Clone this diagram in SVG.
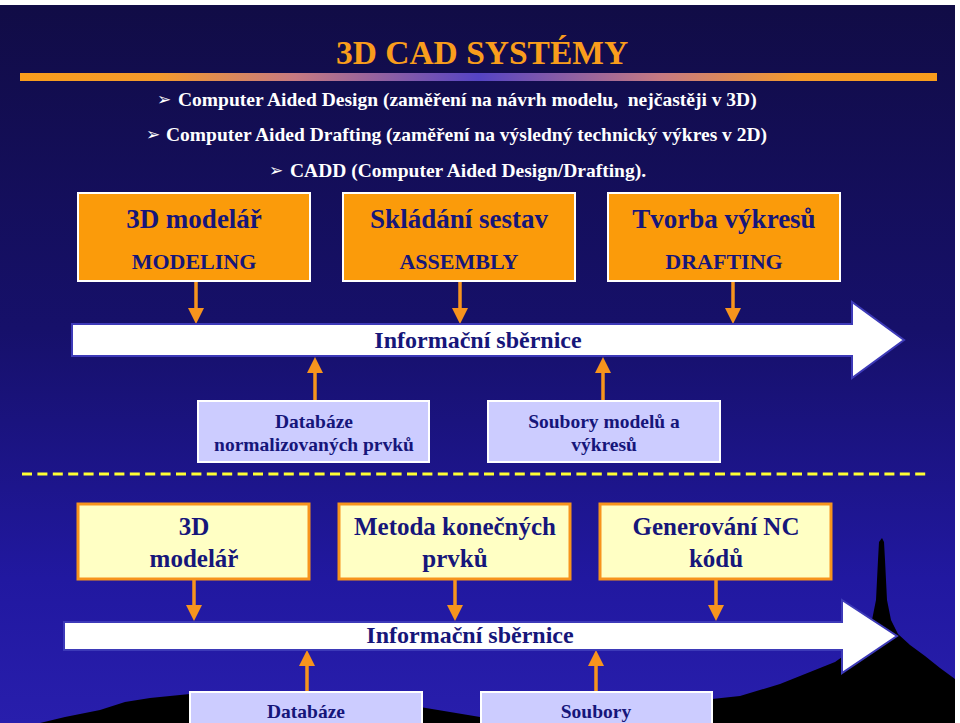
<svg xmlns="http://www.w3.org/2000/svg" width="960" height="723" viewBox="0 0 960 723">
<defs>
<linearGradient id="bg" x1="0" y1="0" x2="0" y2="1">
<stop offset="0" stop-color="#110c46"/>
<stop offset="0.45" stop-color="#16106a"/>
<stop offset="0.8" stop-color="#2118a0"/>
<stop offset="1" stop-color="#281eac"/>
</linearGradient>
<linearGradient id="rule" x1="0" y1="0" x2="1" y2="0">
<stop offset="0" stop-color="#f99d1c"/>
<stop offset="0.15" stop-color="#f49a2c"/>
<stop offset="0.3" stop-color="#c77a82"/>
<stop offset="0.5" stop-color="#5544c4"/>
<stop offset="0.7" stop-color="#c77a82"/>
<stop offset="0.85" stop-color="#f49a2c"/>
<stop offset="1" stop-color="#f99d1c"/>
</linearGradient>
<marker id="ah" markerWidth="16" markerHeight="16" refX="0" refY="8" orient="auto" markerUnits="userSpaceOnUse" viewBox="0 0 16 16">
<path d="M0,0 L16,8 L0,16 z" fill="#f7941d"/>
</marker>
<style>
.t{font-family:"Liberation Serif","Times New Roman",serif;font-weight:bold;text-anchor:middle;fill:#16167a}
.w{font-family:"Liberation Serif","Times New Roman",serif;font-weight:bold;fill:#ffffff;font-size:19.5px}
.ar{font-family:"DejaVu Sans",sans-serif;fill:#ffffff;font-size:17px}
.ob{fill:#fb9b0a;stroke:#ffffff;stroke-width:2}
.lb{fill:#ccccff;stroke:#ffffff;stroke-width:2}
.yb{fill:#ffffc4;stroke:#f7941d;stroke-width:3}
.bus{fill:#ffffff;stroke:#3d3ab8;stroke-width:2}
.c{stroke:#f7941d;stroke-width:3.5;fill:none;marker-end:url(#ah)}
</style>
</defs>
<rect x="0" y="0" width="960" height="723" fill="#ffffff"/>
<rect x="0" y="5" width="955" height="718" fill="url(#bg)"/>
<path d="M40 723 L65 717 L100 710 L125 702 L150 698 L190 694 L300 692 L420 707 L480 717 L560 712 L712 699 L740 696 L780 684 L810 672 L835 662 L855 648 L866 634 L872 620 L876 600 L878 560 L879 542 L882 538 L884 542 L885 560 L887 600 L891 620 L898 634 L910 645 L925 656 L940 668 L955 679 L955 723 Z" fill="#000000"/>
<text x="482" y="64" style="font-family:'Liberation Serif','Times New Roman',serif;font-weight:bold;font-size:33.5px;fill:#f99d1c;text-anchor:middle">3D CAD SYSTÉMY</text>
<rect x="20" y="73" width="917" height="8" fill="url(#rule)"/>
<text class="ar" x="157" y="105">➢</text>
<text class="w" x="178" y="106" xml:space="preserve">Computer Aided Design (zaměření na návrh modelu,  nejčastěji v 3D)</text>
<text class="ar" x="146" y="140">➢</text>
<text class="w" x="166" y="141">Computer Aided Drafting (zaměření na výsledný technický výkres v 2D)</text>
<text class="ar" x="269" y="176">➢</text>
<text class="w" x="290" y="177">CADD (Computer Aided Design/Drafting).</text>
<g id="connectors">
<line class="c" x1="196" y1="282" x2="196" y2="308"/>
<line class="c" x1="460" y1="282" x2="460" y2="308"/>
<line class="c" x1="733" y1="282" x2="733" y2="308"/>
<line class="c" x1="315" y1="401" x2="315" y2="373"/>
<line class="c" x1="603" y1="401" x2="603" y2="373"/>
<line class="c" x1="194" y1="580" x2="194" y2="605"/>
<line class="c" x1="455" y1="580" x2="455" y2="605"/>
<line class="c" x1="716" y1="580" x2="716" y2="605"/>
<line class="c" x1="307" y1="691" x2="307" y2="666"/>
<line class="c" x1="596" y1="691" x2="596" y2="666"/>
</g>
<g id="modeling">
<rect class="ob" x="78" y="193" width="232" height="88"/>
<text class="t" x="194" y="228" font-size="27">3D modelář</text>
<text class="t" x="194" y="269" font-size="22">MODELING</text>
</g>
<g id="assembly">
<rect class="ob" x="343" y="193" width="232" height="88"/>
<text class="t" x="459" y="228" font-size="27">Skládání sestav</text>
<text class="t" x="459" y="269" font-size="22">ASSEMBLY</text>
</g>
<g id="drafting">
<rect class="ob" x="608" y="193" width="232" height="88"/>
<text class="t" x="724" y="228" font-size="27">Tvorba výkresů</text>
<text class="t" x="724" y="269" font-size="22">DRAFTING</text>
</g>
<g id="bus1">
<path class="bus" d="M72 324 L852 324 L852 302 L904 340 L852 378 L852 356 L72 356 Z"/>
<text class="t" x="478" y="348" font-size="24">Informační sběrnice</text>
</g>
<g id="db1">
<rect class="lb" x="198" y="401" width="231" height="61"/>
<text class="t" x="314" y="428" font-size="19.5">Databáze</text>
<text class="t" x="314" y="451" font-size="19.5">normalizovaných prvků</text>
</g>
<g id="files1">
<rect class="lb" x="488" y="401" width="232" height="61"/>
<text class="t" x="604" y="428" font-size="19.5">Soubory modelů a</text>
<text class="t" x="604" y="451" font-size="19.5">výkresů</text>
</g>
<line x1="22" y1="474" x2="928" y2="474" stroke="#ffff33" stroke-width="3" stroke-dasharray="10 5.4"/>
<g id="modeler2">
<rect class="yb" x="78" y="504" width="231" height="75"/>
<text class="t" x="194" y="535" font-size="25">3D</text>
<text class="t" x="194" y="567" font-size="25">modelář</text>
</g>
<g id="fem">
<rect class="yb" x="339" y="504" width="231" height="75"/>
<text class="t" x="455" y="535" font-size="25">Metoda konečných</text>
<text class="t" x="455" y="567" font-size="25">prvků</text>
</g>
<g id="nc">
<rect class="yb" x="600" y="504" width="231" height="75"/>
<text class="t" x="716" y="535" font-size="25">Generování NC</text>
<text class="t" x="716" y="567" font-size="25">kódů</text>
</g>
<g id="bus2">
<path class="bus" d="M64 622 L842 622 L842 600 L897 636 L842 673 L842 650 L64 650 Z"/>
<text class="t" x="470" y="643" font-size="24">Informační sběrnice</text>
</g>
<g id="db2">
<rect class="lb" x="190" y="692" width="232" height="40"/>
<text class="t" x="306" y="718" font-size="19.5">Databáze</text>
</g>
<g id="files2">
<rect class="lb" x="481" y="692" width="231" height="40"/>
<text class="t" x="596" y="718" font-size="19.5">Soubory</text>
</g>
</svg>
